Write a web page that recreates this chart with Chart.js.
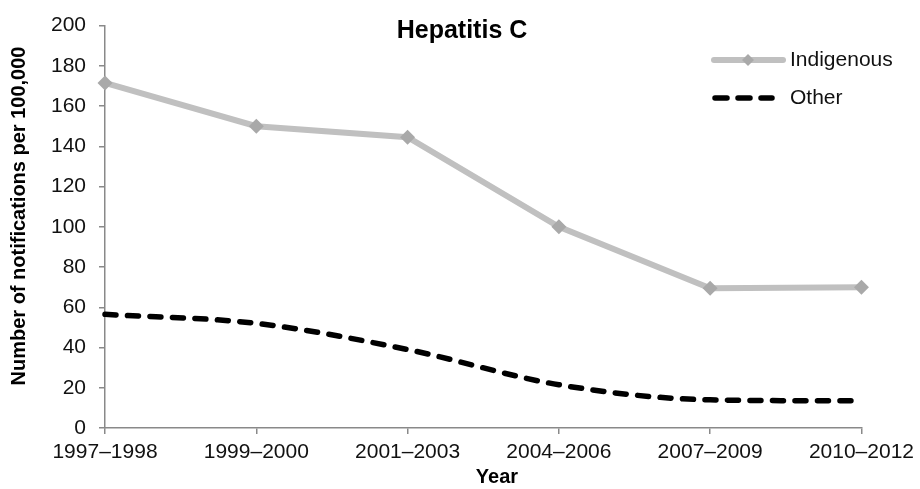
<!DOCTYPE html>
<html>
<head>
<meta charset="utf-8">
<script src="https://cdn.jsdelivr.net/npm/chart.js@4"></script>
<style>
  html, body { margin: 0; padding: 0; background: #fff; }
  #wrap { width: 920px; height: 489px; }
</style>
</head>
<body>
<div id="wrap"><canvas id="c" width="920" height="489"></canvas></div>
<script>
// Hepatitis C notification rates per 100,000, by period
const periods = ['1997–1998', '1999–2000', '2001–2003', '2004–2006', '2007–2009', '2010–2012'];
const indigenous = [171.5, 150, 144.5, 100, 69.5, 70];
const other = [56.5, 52, 39, 21.5, 14, 13.5];
const yTicks = [0, 20, 40, 60, 80, 100, 120, 140, 160, 180, 200];

const FONT = '"Liberation Sans", Arial, sans-serif';
const AXIS = '#898989';
const IND_LINE = '#c0c0c0';
const IND_MARK = '#a9a9a9';

// Title, axis captions and legend drawn on the canvas at fixed spots
const overlay = {
  id: 'overlay',
  afterDraw(chart) {
    const ctx = chart.ctx;
    ctx.save();
    ctx.fillStyle = '#000';
    ctx.font = 'bold 25px ' + FONT;
    ctx.textAlign = 'center';
    ctx.textBaseline = 'middle';
    ctx.fillText('Hepatitis C', 462, 31);

    ctx.font = 'bold 20px ' + FONT;
    ctx.fillText('Year', 497, 477);

    ctx.save();
    ctx.translate(19, 216);
    ctx.rotate(-Math.PI / 2);
    ctx.fillText('Number of notifications per 100,000', 0, 0);
    ctx.restore();

    // legend: Indigenous
    ctx.strokeStyle = IND_LINE;
    ctx.lineWidth = 6;
    ctx.lineCap = 'round';
    ctx.beginPath();
    ctx.moveTo(714, 60);
    ctx.lineTo(783, 60);
    ctx.stroke();
    ctx.fillStyle = IND_MARK;
    ctx.beginPath();
    ctx.moveTo(748, 54); ctx.lineTo(754, 60); ctx.lineTo(748, 66); ctx.lineTo(742, 60);
    ctx.closePath();
    ctx.fill();

    // legend: Other
    ctx.strokeStyle = '#000';
    ctx.lineWidth = 5.5;
    ctx.setLineDash([12, 11]);
    ctx.beginPath();
    ctx.moveTo(715, 98);
    ctx.lineTo(772, 98);
    ctx.stroke();
    ctx.setLineDash([]);

    ctx.fillStyle = '#111';
    ctx.font = '21px ' + FONT;
    ctx.textAlign = 'left';
    ctx.fillText('Indigenous', 790, 60);
    ctx.fillText('Other', 790, 98);
    ctx.restore();
  }
};

new Chart(document.getElementById('c'), {
  type: 'line',
  data: {
    labels: periods,
    datasets: [
      {
        label: 'Indigenous',
        data: indigenous,
        borderColor: IND_LINE,
        borderWidth: 6,
        pointStyle: 'rectRot',
        pointRadius: 7.5,
        pointBackgroundColor: IND_MARK,
        pointBorderColor: IND_MARK,
        pointBorderWidth: 0,
        tension: 0,
        clip: false
      },
      {
        label: 'Other',
        data: other,
        borderColor: '#000',
        borderWidth: 5.5,
        borderDash: [11, 11.5],
        borderCapStyle: 'round',
        pointRadius: 0,
        cubicInterpolationMode: 'monotone',
        clip: false
      }
    ]
  },
  options: {
    responsive: false,
    animation: false,
    events: [],
    layout: { padding: { top: 23, right: 57, left: 0, bottom: 0 } },
    plugins: {
      legend: { display: false },
      title: { display: false },
      tooltip: { enabled: false }
    },
    scales: {
      x: {
        type: 'category',
        offset: false,
        afterFit(s) { s.height = 61; },
        grid: { display: true, drawOnChartArea: false, drawTicks: true, tickLength: 6, color: AXIS, lineWidth: 1.5 },
        border: { display: true, color: AXIS, width: 1.5 },
        ticks: { color: '#111', font: { family: FONT, size: 21 }, padding: 6, maxRotation: 0, autoSkip: false }
      },
      y: {
        min: 0,
        max: 200,
        afterFit(s) { s.width = 105; },
        afterBuildTicks(s) { s.ticks = yTicks.map(v => ({ value: v })); },
        grid: { display: true, drawOnChartArea: false, drawTicks: true, tickLength: 6, color: AXIS, lineWidth: 1.5 },
        border: { display: true, color: AXIS, width: 1.5 },
        ticks: { color: '#111', font: { family: FONT, size: 21 }, padding: 13 }
      }
    }
  },
  plugins: [overlay]
});
</script>
</body>
</html>
